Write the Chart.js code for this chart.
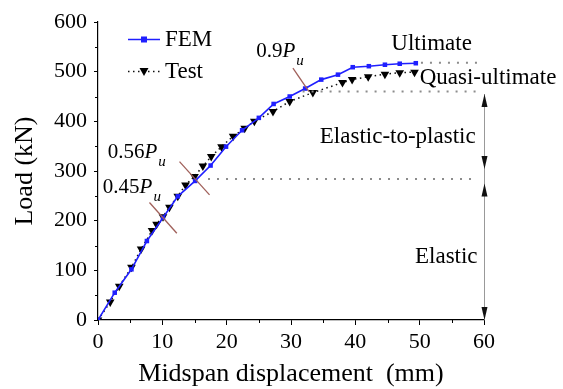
<!DOCTYPE html>
<html>
<head>
<meta charset="utf-8">
<script src="https://cdn.jsdelivr.net/npm/chart.js@4.4.0/dist/chart.umd.min.js"></script>
<style>
  html, body { margin: 0; padding: 0; background: #fff; }
  #grafico { display: block; }
</style>
</head>
<body>
<canvas id="grafico" width="563" height="389"></canvas>
<script>
// Datos (desplazamiento en mm, carga en kN)
const femX  = [0, 2.6, 5.2, 7.6, 10.1, 12.4, 15.1, 17.5, 19.9, 22.4, 25.0, 27.3, 29.8, 32.2, 34.7, 37.3, 39.6, 42.1, 44.6, 46.9, 49.4];
const femY  = [0, 55, 102, 159, 206, 249, 280, 311, 349, 382, 407, 435, 450, 466, 484, 494, 509, 511, 514, 516, 517];
const testX = [0, 1.9, 3.3, 5.2, 6.7, 8.4, 9.1, 10.1, 11.1, 12.4, 13.6, 15.0, 16.3, 17.6, 19.2, 21.0, 22.8, 24.3, 27.2, 29.8, 33.4, 38.0, 39.5, 42.0, 44.6, 46.9, 49.2];
const testY = [0, 36, 68, 106, 143, 180, 193, 208, 227, 249, 272, 289, 310, 329, 349, 370, 386, 400, 420, 440, 458, 478, 484, 490, 495, 498, 499];

// Niveles de referencia (kN)
const nivelUltimo = 518;
const nivelCuasi = 460;
const nivelElastico = 284;

const xTicks = [0, 10, 20, 30, 40, 50, 60];
const yTicks = [0, 100, 200, 300, 400, 500, 600];

const serif = "Liberation Serif";
Chart.defaults.font.family = serif;
Chart.defaults.color = "#000";

function puntos(xs, ys) {
  return xs.map((x, i) => ({ x: x, y: ys[i] }));
}

function lineaNivel(nivel, desde, hasta) {
  return {
    data: [{ x: desde, y: nivel }, { x: hasta, y: nivel }],
    borderColor: "#8c8c8c",
    borderWidth: 2,
    borderDash: [2, 7],
    pointRadius: 0,
    fill: false
  };
}

// Texto tipo 0.45P_u
function textoPu(ctx, x, y, prefijo) {
  ctx.textBaseline = "alphabetic";
  ctx.textAlign = "left";
  ctx.font = "21px " + serif;
  ctx.fillText(prefijo, x, y);
  let w = ctx.measureText(prefijo).width;
  ctx.font = "italic 21px " + serif;
  ctx.fillText("P", x + w, y);
  w += ctx.measureText("P").width;
  ctx.font = "italic 15px " + serif;
  ctx.fillText("u", x + w + 1, y + 8);
}

function flecha(ctx, x, yTip, dir) {
  // dir = -1 apunta hacia arriba, 1 hacia abajo
  ctx.beginPath();
  ctx.moveTo(x, yTip);
  ctx.lineTo(x - 3, yTip - dir * 13);
  ctx.lineTo(x + 3, yTip - dir * 13);
  ctx.closePath();
  ctx.fill();
}

const anotaciones = {
  id: "anotaciones",
  afterDraw(chart) {
    const ctx = chart.ctx;
    const sx = chart.scales.x;
    const sy = chart.scales.y;
    const area = chart.chartArea;
    ctx.save();

    // marcas menores
    ctx.strokeStyle = "#000";
    ctx.lineWidth = 1;
    ctx.beginPath();
    for (let v = 5; v < 60; v += 10) {
      const px = Math.round(sx.getPixelForValue(v)) + 0.5;
      ctx.moveTo(px, area.bottom);
      ctx.lineTo(px, area.bottom + 3);
    }
    for (let v = 50; v < 600; v += 100) {
      const py = Math.round(sy.getPixelForValue(v)) + 0.5;
      ctx.moveTo(area.left, py);
      ctx.lineTo(area.left - 3, py);
    }
    ctx.stroke();

    // marcas de 0.45Pu, 0.56Pu y 0.9Pu
    ctx.strokeStyle = "#a0605a";
    ctx.lineWidth = 1.3;
    const marcas = [[8.0, 236.5, 12.25, 174.7], [12.67, 319, 17.34, 252], [30.3, 507, 32.8, 460]];
    marcas.forEach(m => {
      ctx.beginPath();
      ctx.moveTo(sx.getPixelForValue(m[0]), sy.getPixelForValue(m[1]));
      ctx.lineTo(sx.getPixelForValue(m[2]), sy.getPixelForValue(m[3]));
      ctx.stroke();
    });

    // flecha vertical en x = 60
    const xf = Math.round(sx.getPixelForValue(60)) + 0.5;
    ctx.strokeStyle = "#999";
    ctx.lineWidth = 1;
    ctx.beginPath();
    ctx.moveTo(xf, sy.getPixelForValue(455));
    ctx.lineTo(xf, sy.getPixelForValue(0));
    ctx.stroke();
    ctx.fillStyle = "#111";
    flecha(ctx, xf, sy.getPixelForValue(455), -1);
    flecha(ctx, xf, sy.getPixelForValue(304), 1);
    flecha(ctx, xf, sy.getPixelForValue(275), -1);
    flecha(ctx, xf, sy.getPixelForValue(0), 1);

    // textos
    ctx.fillStyle = "#000";
    ctx.font = "23px " + serif;
    ctx.textBaseline = "alphabetic";
    ctx.textAlign = "left";
    ctx.fillText("Ultimate", sx.getPixelForValue(45.6), sy.getPixelForValue(544));
    ctx.fillText("Quasi-ultimate", sx.getPixelForValue(50.0), sy.getPixelForValue(476));
    ctx.textAlign = "right";
    ctx.fillText("Elastic-to-plastic", sx.getPixelForValue(58.7), sy.getPixelForValue(357));
    ctx.fillText("Elastic", sx.getPixelForValue(59.0), sy.getPixelForValue(115));

    textoPu(ctx, sx.getPixelForValue(24.6), sy.getPixelForValue(530), "0.9");
    textoPu(ctx, sx.getPixelForValue(1.5), sy.getPixelForValue(326), "0.56");
    textoPu(ctx, sx.getPixelForValue(0.75), sy.getPixelForValue(255), "0.45");

    // leyenda
    ctx.lineWidth = 1.5;
    ctx.strokeStyle = "#1f1fff";
    ctx.beginPath();
    ctx.moveTo(128, 39.5);
    ctx.lineTo(160, 39.5);
    ctx.stroke();
    ctx.fillStyle = "#1f1fff";
    ctx.fillRect(141, 36.5, 6, 6);

    ctx.strokeStyle = "#111";
    ctx.setLineDash([1.5, 3.5]);
    ctx.beginPath();
    ctx.moveTo(128, 71.5);
    ctx.lineTo(160, 71.5);
    ctx.stroke();
    ctx.setLineDash([]);
    ctx.fillStyle = "#000";
    ctx.beginPath();
    ctx.moveTo(144, 76);
    ctx.lineTo(139.5, 68);
    ctx.lineTo(148.5, 68);
    ctx.closePath();
    ctx.fill();

    ctx.font = "23px " + serif;
    ctx.textAlign = "left";
    ctx.textBaseline = "middle";
    ctx.fillText("FEM", 165, 40);
    ctx.fillText("Test", 165, 72);

    ctx.restore();
  }
};

const ctx = document.getElementById("grafico").getContext("2d");
const chart = new Chart(ctx, {
  type: "line",
  data: {
    datasets: [
      lineaNivel(nivelUltimo, 50.2, 59),
      lineaNivel(nivelCuasi, 31.8, 59),
      lineaNivel(nivelElastico, 17.1, 58.8),
      {
        label: "FEM",
        data: puntos(femX, femY),
        borderColor: "#1f1fff",
        backgroundColor: "#1f1fff",
        borderWidth: 1.6,
        pointStyle: "rect",
        pointRadius: 3.2,
        pointBorderWidth: 0,
        tension: 0
      },
      {
        label: "Test",
        data: puntos(testX, testY),
        borderColor: "#111",
        backgroundColor: "#000",
        borderWidth: 1.5,
        borderDash: [1.5, 3.5],
        pointStyle: "triangle",
        rotation: 180,
        pointRadius: 5,
        pointBorderWidth: 0,
        tension: 0
      }
    ]
  },
  options: {
    responsive: false,
    devicePixelRatio: 1,
    animation: false,
    layout: { padding: { top: 22, right: 79, left: 0, bottom: 0 } },
    plugins: {
      legend: { display: false },
      tooltip: { enabled: false },
      title: { display: false }
    },
    scales: {
      x: {
        type: "linear",
        min: 0,
        max: 60,
        afterFit: s => { s.height = 69; },
        afterBuildTicks: s => { s.ticks = xTicks.map(v => ({ value: v })); },
        ticks: { color: "#000", font: { family: serif, size: 22 }, padding: 4, maxRotation: 0 },
        grid: { display: true, drawOnChartArea: false, drawTicks: true, tickLength: 5, tickColor: "#000", tickWidth: 1 },
        border: { display: true, color: "#000", width: 1.2 },
        title: {
          display: true,
          text: "Midspan displacement  (mm)",
          color: "#000",
          font: { family: serif, size: 26, lineHeight: 1 },
          padding: { top: 0, bottom: 2 }
        }
      },
      y: {
        type: "linear",
        min: 0,
        max: 600,
        afterFit: s => { s.width = 98; },
        afterBuildTicks: s => { s.ticks = yTicks.map(v => ({ value: v })); },
        ticks: { color: "#000", font: { family: serif, size: 22 }, padding: 7 },
        grid: { display: true, drawOnChartArea: false, drawTicks: true, tickLength: 4, tickColor: "#000", tickWidth: 1 },
        border: { display: true, color: "#000", width: 1.2 },
        title: {
          display: true,
          text: "Load (kN)",
          color: "#000",
          font: { family: serif, size: 26, lineHeight: 1 },
          padding: { top: 12, bottom: 0 }
        }
      }
    }
  },
  plugins: [anotaciones]
});
</script>
</body>
</html>
